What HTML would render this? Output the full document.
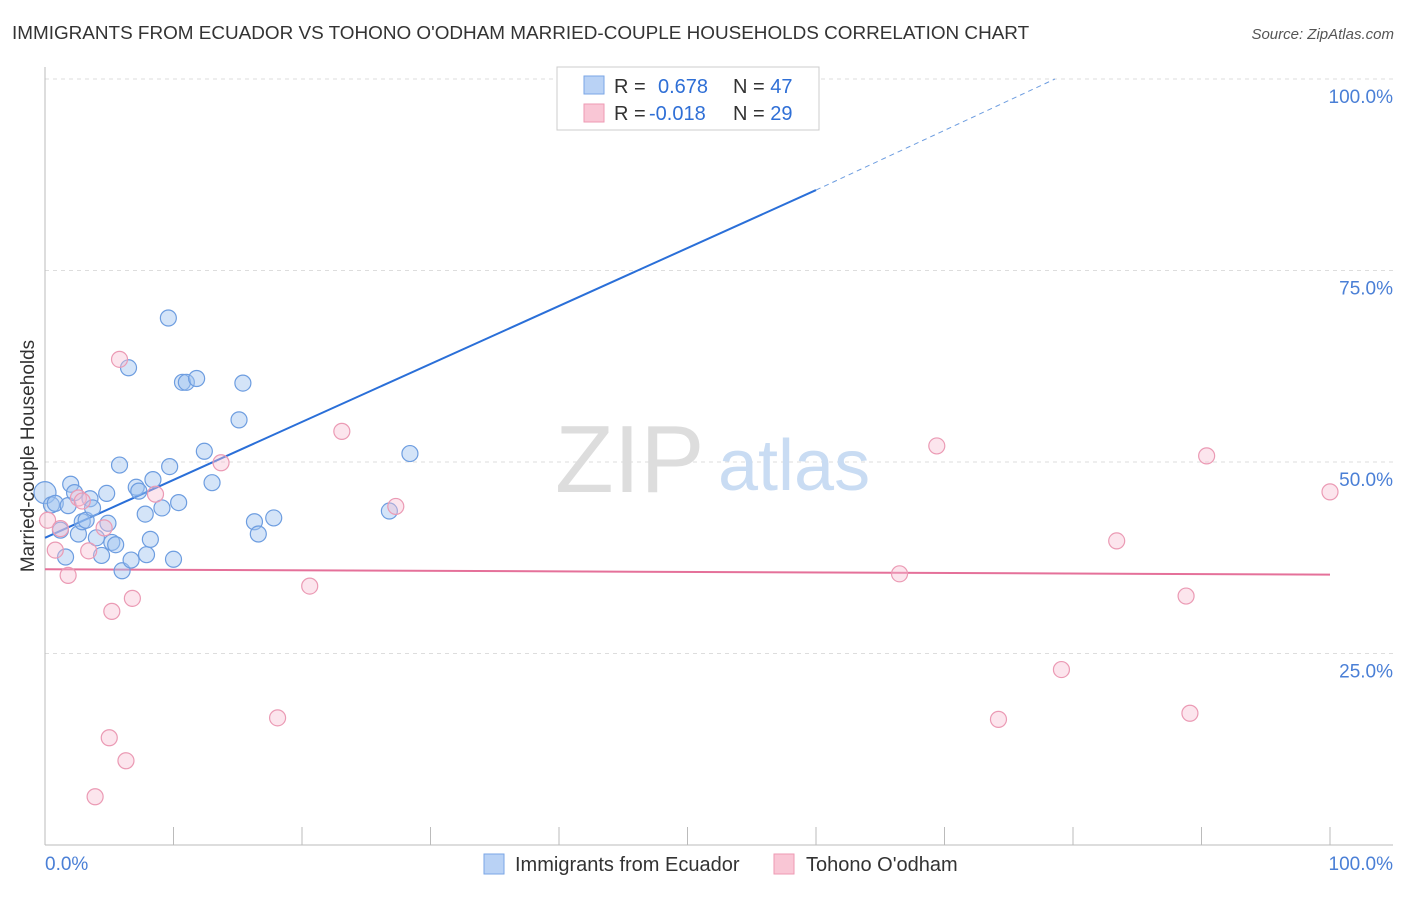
<!DOCTYPE html>
<html><head><meta charset="utf-8"><style>
body{margin:0;background:#fff;font-family:"Liberation Sans",sans-serif}
svg text{font-family:"Liberation Sans",sans-serif}
</style></head><body>
<svg id="chart" width="1406" height="892" xmlns="http://www.w3.org/2000/svg">
<text x="12" y="39" font-size="18.9" fill="#333">IMMIGRANTS FROM ECUADOR VS TOHONO O'ODHAM MARRIED-COUPLE HOUSEHOLDS CORRELATION CHART</text>
<text x="1394" y="39" font-size="15" fill="#555" font-style="italic" text-anchor="end">Source: ZipAtlas.com</text>
<g id="grid"></g>
<text x="555" y="492" font-size="96" fill="#ddd" font-family="Liberation Serif">ZIP</text>
<text x="718" y="490" font-size="72" fill="#c9dcf3">atlas</text>
<line x1="45" y1="67" x2="45" y2="845" stroke="#bbb"/>
<line x1="45" y1="845" x2="1393" y2="845" stroke="#bbb"/>
<g id="ticks"></g>
<g id="trend"></g>
<g id="pts"></g>
<text x="34" y="456" font-size="19" fill="#333" text-anchor="middle" transform="rotate(-90 34 456)">Married-couple Households</text>
<text x="45" y="870" font-size="19" fill="#4a7fd6">0.0%</text>
<text x="1393" y="870" font-size="19" fill="#4a7fd6" text-anchor="end">100.0%</text>
<g>
<rect x="557" y="67" width="262" height="63" fill="#fff" stroke="#ccc"/>
<rect x="584" y="76" width="20" height="18" fill="#b9d2f5" stroke="#7aa6e6"/>
<rect x="584" y="104" width="20" height="18" fill="#f9c6d5" stroke="#ee9ab3"/>
<text x="614" y="93" font-size="20" fill="#333">R = <tspan fill="#2f6fd6" x="658">0.678</tspan><tspan x="733" fill="#333">N = </tspan><tspan fill="#2f6fd6">47</tspan></text>
<text x="614" y="120" font-size="20" fill="#333">R = <tspan fill="#2f6fd6" x="649">-0.018</tspan><tspan x="733" fill="#333">N = </tspan><tspan fill="#2f6fd6">29</tspan></text>
</g>
<g>
<rect x="484" y="854" width="20" height="20" fill="#b9d2f5" stroke="#7aa6e6"/>
<text x="515" y="871" font-size="20" fill="#333">Immigrants from Ecuador</text>
<rect x="774" y="854" width="20" height="20" fill="#f9c6d5" stroke="#ee9ab3"/>
<text x="806" y="871" font-size="20" fill="#333">Tohono O'odham</text>
</g>
</svg>
<script>
const yTicks=[25,50,75,100];
const xTicks=[0,10,20,30,40,50,60,70,80,90,100];
const blueX=[0,0.5,0.8,1.2,1.6,1.8,2,2.3,2.6,2.9,3.2,3.5,3.7,4,4.4,4.8,4.9,5.2,5.5,5.8,6,6.5,6.7,7.1,7.3,7.8,7.9,8.2,8.4,9.1,9.6,9.7,10,10.4,10.7,11,11.8,12.4,13,15.1,15.4,16.3,16.6,17.8,26.8,28.4,59.4];
const blueY=[46,44.4,44.6,41.1,37.6,44.3,47.1,46,40.6,42.2,42.4,45.2,44,40.1,37.8,45.9,42,39.5,39.2,49.6,35.8,62.3,37.2,46.7,46.2,43.2,37.9,39.9,47.7,44,68.8,49.4,37.3,44.7,60.4,60.4,60.9,51.4,47.3,55.5,60.3,42.2,40.6,42.7,43.6,51.1,100];
const pinkX=[0.2,0.8,1.2,1.8,2.6,2.9,3.4,3.9,4.6,5,5.2,5.8,6.3,6.8,8.6,13.7,18.1,20.6,23.1,27.3,66.5,69.4,74.2,79.1,83.4,88.8,89.1,90.4,100];
const pinkY=[42.4,38.5,41.3,35.2,45.3,44.9,38.4,6.3,41.4,14,30.5,63.4,11,32.2,45.8,49.9,16.6,33.8,54,44.2,35.4,52.1,16.4,22.9,39.7,32.5,17.2,50.8,46.1];
const blueTrend=[0,40.1,60,85.5,78.6,100];
const pinkTrend=[0,36,100,35.3];
const X=v=>45+v*12.85, Y=v=>845-v*7.66;
const NS="http://www.w3.org/2000/svg";
function mk(t,a,p){const e=document.createElementNS(NS,t);for(const k in a)e.setAttribute(k,a[k]);document.getElementById(p).appendChild(e);return e;}
yTicks.forEach(t=>{
 const l=mk('line',{x1:45,x2:1393,y1:Y(t),y2:Y(t),stroke:'#ddd','stroke-dasharray':'4,4'},'grid');
 
 
 const tx=mk('text',{x:1393,y:Y(t)+24,'font-size':19,fill:'#4a7fd6','text-anchor':'end'},'grid');
 tx.textContent=t.toFixed(1)+'%';
 
 
});
xTicks.forEach(t=>{
 const l=mk('line',{x1:X(t),x2:X(t),y1:827,y2:845,stroke:'#bbb'},'ticks');
 
 
});
blueX.forEach((v,i)=>{
 const c=mk('circle',{cx:X(v),cy:Y(blueY[i]),r:i==0?11:8,fill:'rgba(160,195,240,0.45)',stroke:'#6d9de0','stroke-width':1.2},'pts');
 
 
});
pinkX.forEach((v,i)=>{
 const c=mk('circle',{cx:X(v),cy:Y(pinkY[i]),r:8,fill:'rgba(248,190,210,0.4)',stroke:'#eb9ab4','stroke-width':1.2},'pts');
 
 
});
let b=mk('line',{x1:X(blueTrend[0]),y1:Y(blueTrend[1]),x2:X(blueTrend[2]),y2:Y(blueTrend[3]),stroke:'#2a6fd8','stroke-width':2},'trend');


b=mk('line',{x1:X(blueTrend[2]),y1:Y(blueTrend[3]),x2:X(blueTrend[4]),y2:Y(blueTrend[5]),stroke:'#6d9de0','stroke-width':1,'stroke-dasharray':'5,4'},'trend');


b=mk('line',{x1:X(pinkTrend[0]),y1:Y(pinkTrend[1]),x2:X(pinkTrend[2]),y2:Y(pinkTrend[3]),stroke:'#e5719a','stroke-width':2},'trend');


</script>
</body></html>
